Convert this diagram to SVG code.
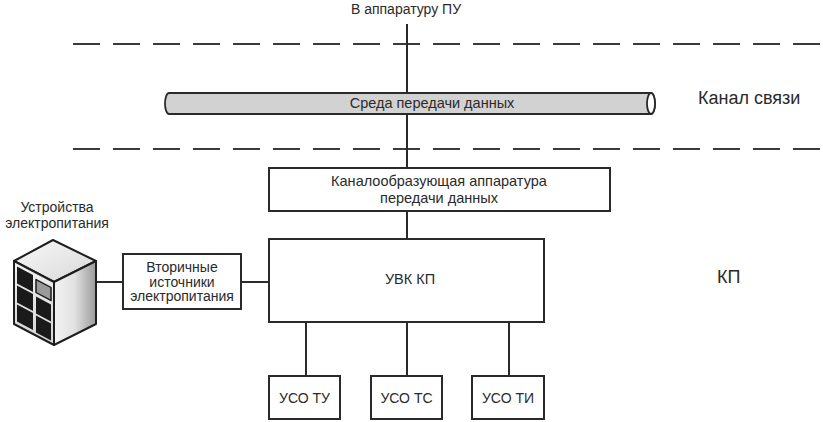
<svg xmlns="http://www.w3.org/2000/svg" width="823" height="422" viewBox="0 0 823 422">
<style>
text{font-family:"Liberation Sans",Arial,sans-serif;fill:#2a2a2a;}
.lbl{font-size:14.5px;text-anchor:middle;}
.sm{font-size:14px;text-anchor:middle;}
.big{font-size:18px;}
.box{fill:#fff;stroke:#2a2a2a;stroke-width:2;}
.ln{stroke:#2a2a2a;stroke-width:2;fill:none;}
.dash{stroke:#3a3a3a;stroke-width:2;stroke-dasharray:27 13;fill:none;}
</style>
<defs>
<linearGradient id="gRight" x1="0" y1="0" x2="1" y2="0">
<stop offset="0" stop-color="#f4f4f4"/>
<stop offset="0.5" stop-color="#e0e0e0"/>
<stop offset="1" stop-color="#9a9a9a"/>
</linearGradient>
<linearGradient id="gTop" x1="0" y1="0" x2="1" y2="1">
<stop offset="0" stop-color="#f8f8f8"/>
<stop offset="1" stop-color="#d8d8d8"/>
</linearGradient>
<linearGradient id="gLeft" x1="0" y1="0" x2="0" y2="1">
<stop offset="0" stop-color="#f2f2f2"/>
<stop offset="1" stop-color="#d4d4d4"/>
</linearGradient>
</defs>

<g id="boundaries">
<line class="dash" x1="73" y1="44" x2="823" y2="44"/>
<line class="dash" x1="73" y1="149" x2="823" y2="149"/>
</g>

<g id="connectors">
<line class="ln" x1="407" y1="24" x2="407" y2="168"/>
<line class="ln" x1="407" y1="211" x2="407" y2="239"/>
<line class="ln" x1="97" y1="282" x2="123" y2="282"/>
<line class="ln" x1="241" y1="282" x2="269" y2="282"/>
<line class="ln" x1="306" y1="322" x2="306" y2="376"/>
<line class="ln" x1="407" y1="322" x2="407" y2="376"/>
<line class="ln" x1="509" y1="322" x2="509" y2="376"/>
</g>

<text class="sm" x="406" y="14">В аппаратуру ПУ</text>

<g id="medium">
<path d="M169,93 H651 A4,10.5 0 0 1 651,114 H169 A4,10.5 0 0 1 169,93 Z" fill="#d2d2d2" stroke="#2a2a2a" stroke-width="1.8"/>
<ellipse cx="651" cy="103.5" rx="4" ry="10.5" fill="#fff" stroke="#2a2a2a" stroke-width="1.8"/>
<text class="lbl" x="432" y="108">Среда передачи данных</text>
</g>

<text class="big" x="698" y="104">Канал связи</text>
<text class="big" x="717" y="283">КП</text>

<g id="kanaloobr">
<rect class="box" x="269" y="168" width="341" height="43"/>
<text class="lbl" x="439" y="186">Каналообразующая аппаратура</text>
<text class="lbl" x="439" y="203">передачи данных</text>
</g>

<g id="uvk">
<rect class="box" x="269" y="239" width="275" height="83"/>
<text class="lbl" x="410" y="284">УВК КП</text>
</g>

<g id="vtorichnye">
<rect class="box" x="123" y="254" width="118" height="55"/>
<text class="sm" x="182" y="272">Вторичные</text>
<text class="sm" x="182" y="286.5">источники</text>
<text class="sm" x="182" y="301">электропитания</text>
</g>

<g id="ustroistva">
<text class="sm" x="57" y="212">Устройства</text>
<text class="sm" x="57" y="228">электропитания</text>
<g id="cube" stroke="#1e1e1e" stroke-width="2" stroke-linejoin="round">
<polygon points="53,240 96,261 54,282 14,261" fill="url(#gTop)"/>
<polygon points="14,261 54,282 54,345 14,324" fill="url(#gLeft)"/>
<polygon points="54,282 96,261 96,324 54,345" fill="url(#gRight)"/>
<g transform="matrix(1,0.525,0,1,14,261)" stroke="none">
<rect x="3" y="4" width="16" height="17" fill="#1a1a1a"/>
<rect x="3" y="23" width="16" height="17" fill="#1a1a1a"/>
<rect x="3" y="42" width="16" height="17" fill="#1a1a1a"/>
<rect x="22" y="7" width="15" height="13" fill="#9a9a9a" stroke="#1a1a1a" stroke-width="1.5"/>
<rect x="22" y="24" width="15" height="17" fill="#1a1a1a"/>
<rect x="22" y="43" width="15" height="17" fill="#1a1a1a"/>
</g>
</g>
</g>

<g id="uso-tu">
<rect class="box" x="269" y="376" width="71" height="43"/>
<text class="sm" x="304.5" y="403">УСО ТУ</text>
</g>
<g id="uso-tc">
<rect class="box" x="371" y="376" width="71" height="43"/>
<text class="sm" x="406.5" y="403">УСО ТС</text>
</g>
<g id="uso-ti">
<rect class="box" x="472" y="376" width="72" height="43"/>
<text class="sm" x="508" y="403">УСО ТИ</text>
</g>
</svg>
